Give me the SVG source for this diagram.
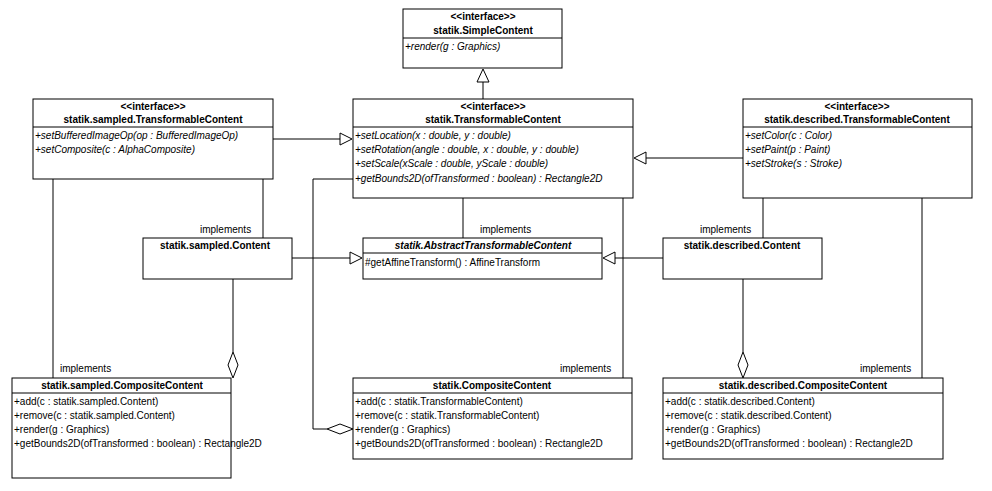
<svg xmlns="http://www.w3.org/2000/svg" width="992" height="491" viewBox="0 0 992 491">
<style>
rect{fill:#fff;stroke:#000;stroke-width:1}
line,path{stroke:#000;stroke-width:1;fill:none}
text{font-family:"Liberation Sans",Arial,sans-serif;font-size:10px;fill:#000}
.t{font-weight:bold;text-anchor:middle}
.i{font-style:italic}
.c{text-anchor:middle}
.tri{fill:#fff;stroke:#000}
</style>
<rect x="0" y="0" width="992" height="491" style="fill:#fff;stroke:none"/>
<g id="connectors">
<line x1="483" y1="99" x2="483" y2="82"/><path class="tri" d="M483,69 L477,82 L489,82 Z"/>
<line x1="273" y1="139" x2="340" y2="139"/><path class="tri" d="M352,139 L340,133 L340,145 Z"/>
<line x1="743" y1="158" x2="646" y2="158"/><path class="tri" d="M634,158 L646,152 L646,164 Z"/>
<line x1="292" y1="258" x2="350" y2="258"/><path class="tri" d="M362,258 L350,252 L350,264 Z"/>
<line x1="663" y1="258" x2="615" y2="258"/><path class="tri" d="M603,258 L615,252 L615,264 Z"/>
<line x1="263" y1="179" x2="263" y2="238"/><text x="200" y="233">implements</text>
<line x1="53" y1="179" x2="53" y2="378"/><text x="60" y="372">implements</text>
<line x1="463" y1="198" x2="463" y2="238"/><text x="480" y="233">implements</text>
<line x1="623" y1="198" x2="623" y2="378"/><text x="560" y="372">implements</text>
<line x1="763" y1="198" x2="763" y2="238"/><text x="700" y="233">implements</text>
<line x1="922" y1="198" x2="922" y2="378"/><text x="860" y="372">implements</text>
<line x1="233" y1="279" x2="233" y2="352"/><path class="tri" d="M233,352 L238,365 L233,378 L228,365 Z"/>
<line x1="743" y1="279" x2="743" y2="352"/><path class="tri" d="M743,352 L748,365 L743,378 L738,365 Z"/>
<path d="M353,179 L313,179 L313,429 L327,429"/><path class="tri" d="M327,429 L340,424 L353,429 L340,434 Z"/>
</g>
<g id="SimpleContent"><rect x="403" y="9" width="159" height="59"/><line x1="403" y1="38" x2="562" y2="38"/>
<text class="t" x="483" y="20">&lt;&lt;interface&gt;&gt;</text><text class="t" x="483" y="34">statik.SimpleContent</text>
<text class="i" x="405" y="50">+render(g : Graphics)</text></g>
<g id="TransformableContent"><rect x="353" y="99" width="280" height="99"/><line x1="353" y1="127" x2="633" y2="127"/>
<text class="t" x="493" y="110">&lt;&lt;interface&gt;&gt;</text><text class="t" x="493" y="123">statik.TransformableContent</text>
<text class="i" x="355" y="139">+setLocation(x : double, y : double)</text>
<text class="i" x="355" y="153">+setRotation(angle : double, x : double, y : double)</text>
<text class="i" x="355" y="167">+setScale(xScale : double, yScale : double)</text>
<text class="i" x="355" y="182">+getBounds2D(ofTransformed : boolean) : Rectangle2D</text></g>
<g id="sampledTC"><rect x="33" y="99" width="240" height="80"/><line x1="33" y1="127" x2="273" y2="127"/>
<text class="t" x="153" y="110">&lt;&lt;interface&gt;&gt;</text><text class="t" x="153" y="123">statik.sampled.TransformableContent</text>
<text class="i" x="35" y="139">+setBufferedImageOp(op : BufferedImageOp)</text>
<text class="i" x="35" y="153">+setComposite(c : AlphaComposite)</text></g>
<g id="describedTC"><rect x="743" y="99" width="229" height="99"/><line x1="743" y1="127" x2="972" y2="127"/>
<text class="t" x="857" y="110">&lt;&lt;interface&gt;&gt;</text><text class="t" x="857" y="123">statik.described.TransformableContent</text>
<text class="i" x="745" y="139">+setColor(c : Color)</text>
<text class="i" x="745" y="153">+setPaint(p : Paint)</text>
<text class="i" x="745" y="167">+setStroke(s : Stroke)</text></g>
<g id="sampledContent"><rect x="143" y="238" width="149" height="41"/><text class="t" x="215" y="249">statik.sampled.Content</text></g>
<g id="AbstractTC"><rect x="363" y="238" width="239" height="41"/><line x1="363" y1="253" x2="602" y2="253"/>
<text class="t i" x="483" y="249">statik.AbstractTransformableContent</text>
<text x="365" y="266">#getAffineTransform() : AffineTransform</text></g>
<g id="describedContent"><rect x="663" y="238" width="159" height="41"/><text class="t" x="742" y="249">statik.described.Content</text></g>
<g id="sampledComposite"><rect x="12" y="378" width="219" height="100"/><line x1="12" y1="393" x2="231" y2="393"/>
<text class="t" x="122" y="389">statik.sampled.CompositeContent</text>
<text x="14" y="405">+add(c : statik.sampled.Content)</text>
<text x="14" y="419">+remove(c : statik.sampled.Content)</text>
<text x="14" y="433">+render(g : Graphics)</text>
<text x="14" y="447">+getBounds2D(ofTransformed : boolean) : Rectangle2D</text></g>
<g id="CompositeContent"><rect x="353" y="378" width="279" height="81"/><line x1="353" y1="393" x2="632" y2="393"/>
<text class="t" x="492" y="389">statik.CompositeContent</text>
<text x="355" y="405">+add(c : statik.TransformableContent)</text>
<text x="355" y="419">+remove(c : statik.TransformableContent)</text>
<text x="355" y="433">+render(g : Graphics)</text>
<text x="355" y="447">+getBounds2D(ofTransformed : boolean) : Rectangle2D</text></g>
<g id="describedComposite"><rect x="663" y="378" width="280" height="81"/><line x1="663" y1="393" x2="943" y2="393"/>
<text class="t" x="803" y="389">statik.described.CompositeContent</text>
<text x="665" y="405">+add(c : statik.described.Content)</text>
<text x="665" y="419">+remove(c : statik.described.Content)</text>
<text x="665" y="433">+render(g : Graphics)</text>
<text x="665" y="447">+getBounds2D(ofTransformed : boolean) : Rectangle2D</text></g>
</svg>
